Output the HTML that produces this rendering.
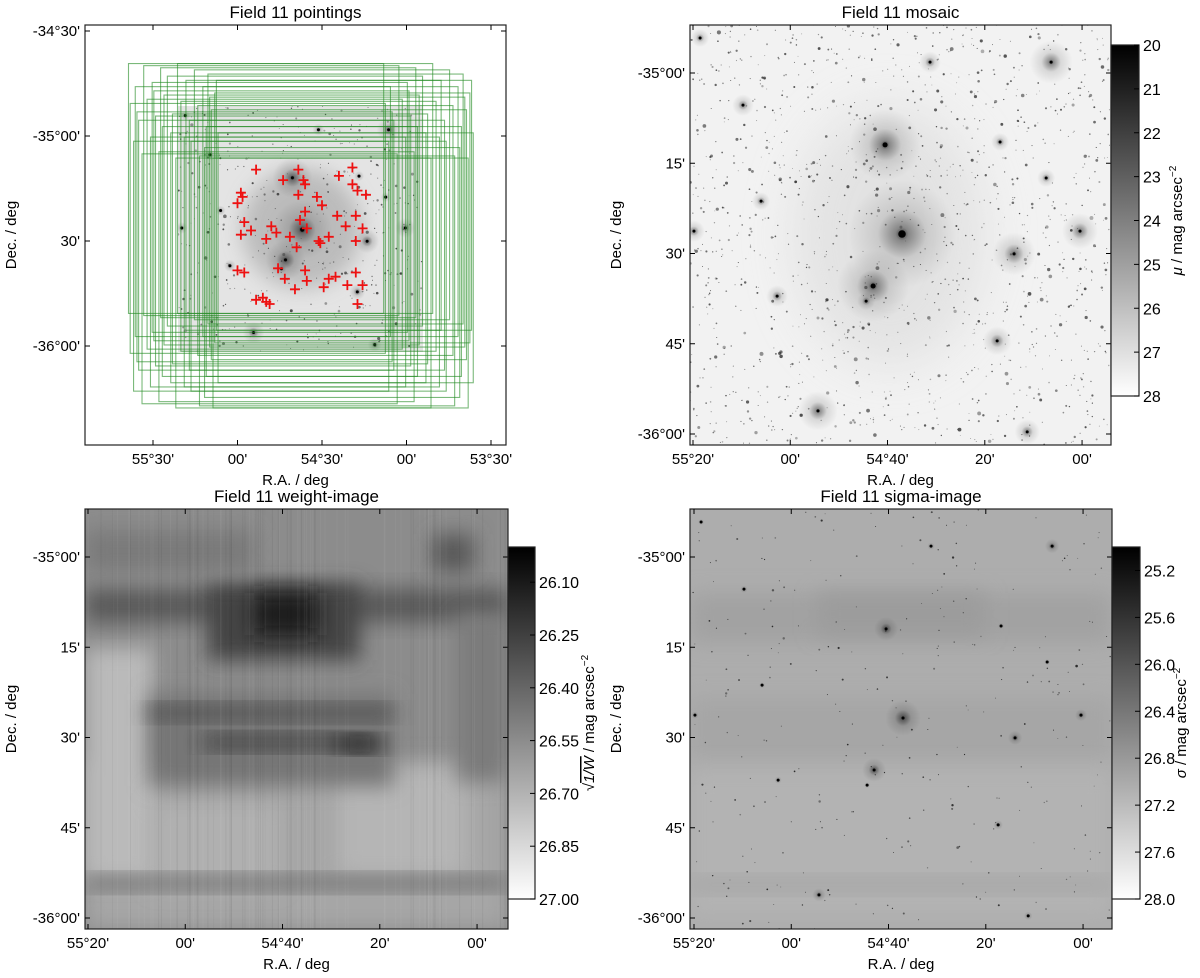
<!DOCTYPE html>
<html><head><meta charset="utf-8">
<style>
html,body{margin:0;padding:0;background:#fff;}
svg{display:block;font-family:"Liberation Sans",sans-serif;}
</style></head>
<body>
<svg id="fig" width="1200" height="978" viewBox="0 0 1200 978" xmlns="http://www.w3.org/2000/svg">
<defs>
<linearGradient id="cbar" x1="0" y1="0" x2="0" y2="1"><stop offset="0" stop-color="#000"/><stop offset="1" stop-color="#fff"/></linearGradient>
<radialGradient id="halo"><stop offset="0" stop-color="#000" stop-opacity="0.85"/><stop offset="0.12" stop-color="#000" stop-opacity="0.45"/><stop offset="0.45" stop-color="#000" stop-opacity="0.12"/><stop offset="1" stop-color="#000" stop-opacity="0"/></radialGradient>
<filter id="blur" x="-50%" y="-50%" width="200%" height="200%"><feGaussianBlur stdDeviation="10"/></filter>
<filter id="blur2" x="-50%" y="-50%" width="200%" height="200%"><feGaussianBlur stdDeviation="25"/></filter>
<clipPath id="c1"><rect x="85" y="25" width="421" height="420"/></clipPath>
<clipPath id="c2"><rect x="690" y="25" width="421" height="420"/></clipPath>
<clipPath id="c3"><rect x="85" y="509" width="423" height="420"/></clipPath>
<clipPath id="c4"><rect x="690" y="509" width="422" height="420"/></clipPath>
<clipPath id="cpatch"><rect x="178" y="106" width="245" height="246"/></clipPath>
</defs>
</svg>
<script>
// ---------- data ----------
const crossRA  = [54.89,54.64,54.73,54.61,54.60,54.40,54.32,54.32,54.29,54.24,54.98,54.97,55.00,54.64,54.53,54.50,54.60,54.63,54.59,54.41,54.30,54.36,54.26,54.96,54.98,54.92,54.80,54.77,54.83,54.69,54.65,54.52,54.51,54.46,54.30,55.00,54.96,54.76,54.72,54.60,54.59,54.66,54.49,54.46,54.42,54.30,54.35,54.26,54.89,54.85,54.83,54.81,54.29];
const crossDec = [-35.16,-35.16,-35.21,-35.21,-35.23,-35.19,-35.15,-35.23,-35.26,-35.28,-35.27,-35.29,-35.32,-35.28,-35.29,-35.33,-35.36,-35.40,-35.44,-35.38,-35.38,-35.43,-35.44,-35.41,-35.47,-35.45,-35.43,-35.46,-35.49,-35.48,-35.53,-35.50,-35.51,-35.48,-35.50,-35.64,-35.65,-35.63,-35.68,-35.64,-35.69,-35.73,-35.72,-35.68,-35.67,-35.65,-35.71,-35.71,-35.78,-35.77,-35.79,-35.80,-35.80];
const rectRA  = [54.89,54.80,54.70,54.60,54.50,54.42,54.37,54.85,54.75,54.66,54.55,54.45,54.38,54.88,54.78,54.68,54.58,54.48,54.40,54.83,54.73,54.63,54.53,54.43,54.36,54.86,54.76,54.64,54.52,54.44,54.81,54.71,54.61,54.47,54.39,54.84,54.69,54.56,54.41,54.74];
const rectDec = [-35.25,-35.26,-35.27,-35.25,-35.28,-35.30,-35.33,-35.36,-35.34,-35.31,-35.33,-35.36,-35.39,-35.44,-35.42,-35.40,-35.43,-35.45,-35.47,-35.52,-35.50,-35.49,-35.52,-35.55,-35.58,-35.62,-35.60,-35.58,-35.62,-35.65,-35.68,-35.67,-35.70,-35.69,-35.70,-35.48,-35.55,-35.60,-35.41,-35.38];
const galRA  = [54.617,54.675,54.716,54.233,54.007,54.106,54.905,55.045,54.291,54.188,54.123,54.281,55.162,54.521,55.309,54.740,55.330,55.100];
const galDec = [-35.446,-35.199,-35.590,-35.501,-35.438,-34.970,-35.936,-35.618,-35.742,-35.994,-35.291,-35.191,-35.089,-34.970,-34.903,-35.632,-35.438,-35.355];
const galSize = [60,40,40,24,20,24,22,12,16,14,10,10,12,12,10,10,12,10];
const p1DecTicks=[-34.5,-35.0,-35.5,-36.0], p1DecLabels=["-34°30'","-35°00'","30'","-36°00'"];
const p1RATicks=[55.5,55.0,54.5,54.0,53.5], p1RALabels=["55°30'","00'","54°30'","00'","53°30'"];
const raTicks=[55.3333,55.0,54.6667,54.3333,54.0], raLabels=["55°20'","00'","54°40'","20'","00'"];
const decTicks=[-35.0,-35.25,-35.5,-35.75,-36.0], decLabels=["-35°00'","15'","30'","45'","-36°00'"];
const cb2Ticks=[20,21,22,23,24,25,26,27,28];
const cb3Ticks=[26.10,26.25,26.40,26.55,26.70,26.85,27.00];
const cb4Ticks=[25.2,25.6,26.0,26.4,26.8,27.2,27.6,28.0];

// ---------- helpers ----------
const NS="http://www.w3.org/2000/svg";
const svg=document.getElementById('fig');
function mk(tag,attrs,parent){const e=document.createElementNS(NS,tag);for(const k in attrs)e.setAttribute(k,attrs[k]);(parent||svg).appendChild(e);return e;}
function txt(x,y,s,size,anchor,parent,rot){const t=mk('text',{x:x,y:y,'font-size':size,'text-anchor':anchor||'middle',fill:'#000'},parent);if(rot)t.setAttribute('transform',`rotate(${rot} ${x} ${y})`);t.textContent=s;return t;}
let seed=7;function rnd(){seed=(seed*16807)%2147483647;return (seed-1)/2147483646;}

const x1=ra=>153+(55.5-ra)*169, y1=d=>31+(-34.5-d)*210;
const x2=ra=>693+(55.3333-ra)*291.8, y2=d=>73+(-35-d)*361;
const x3=ra=>88+(55.3333-ra)*291.8, y3=d=>557+(-35-d)*361;
const x4=ra=>694+(55.3333-ra)*291.8, y4=d=>557+(-35-d)*361;

function axes(name,bx,by,bw,bh,xf,yf,xt,xl,yt,yl,title){
  const g=mk('g',{});
  
  
  mk('rect',{x:bx,y:by,width:bw,height:bh,fill:'none',stroke:'#222','stroke-width':1.2},g);
  xt.forEach((v,i)=>{const X=xf(v);
    mk('line',{x1:X,y1:by+bh,x2:X,y2:by+bh-5,stroke:'#000'},g);
    mk('line',{x1:X,y1:by,x2:X,y2:by+5,stroke:'#000'},g);
    const t=txt(X,by+bh+19,xl[i],15,'middle',g);
    
    });
  yt.forEach((v,i)=>{const Y=yf(v);
    mk('line',{x1:bx,y1:Y,x2:bx+5,y2:Y,stroke:'#000'},g);
    mk('line',{x1:bx+bw,y1:Y,x2:bx+bw-5,y2:Y,stroke:'#000'},g);
    const t=txt(bx-5,Y+5,yl[i],15,'end',g);
    
    });
  const xa=txt(bx+bw/2,by+bh+40,'R.A. / deg',15,'middle',g);
  
  
  const ya=txt(bx-69,by+bh/2,'Dec. / deg',15,'middle',g,-90);
  
  
  const tt=txt(bx+bw/2,by-7,title,17,'middle',g);
  
  
}
function colorbar(name,cx,cy,cw,ch,vmin,vmax,ticks,fmt,label,lx){
  const g=mk('g',{});
  
  
  mk('rect',{x:cx,y:cy,width:cw,height:ch,fill:'url(#cbar)',stroke:'#222','stroke-width':1.2},g);
  const cyf=v=>cy+(v-vmin)/(vmax-vmin)*ch;
  ticks.forEach(v=>{const Y=cyf(v);
    mk('line',{x1:cx+cw,y1:Y,x2:cx+cw-5,y2:Y,stroke:'#000'},g);
    const t=txt(cx+cw+4,Y+6,fmt(v),16,'start',g);
    
    });
  const l=txt(lx,cy+ch/2,'',15,'middle',g,-90);
  l.innerHTML=label;
  
  
}
function galaxies(parent,xf,yf,scale,op){
  galRA.forEach((ra,i)=>{
    const X=xf(ra),Y=yf(galDec[i]),r=galSize[i]*scale;
    const h=mk('circle',{cx:X,cy:Y,r:r,fill:'url(#halo)',opacity:op},parent);
    
    
    mk('circle',{cx:X,cy:Y,r:Math.max(1.5,r*0.07),fill:'#000'},parent);
  });
}
function stars(parent,x0,y0,w,h,n,col,maxr){
  for(let i=0;i<n;i++){const a=rnd(),b=rnd();mk('circle',{cx:x0+rnd()*w,cy:y0+rnd()*h,r:0.5+a*a*b*maxr,fill:col,opacity:0.35+rnd()*0.5},parent);}
}

// ---------- Panel 1 ----------
(function(){
  const g=mk('g',{'clip-path':'url(#c1)'});
  
  
  const p=mk('g',{'clip-path':'url(#cpatch)'},g);
  mk('rect',{x:178,y:106,width:245,height:246,fill:'#e4e4e4'},p);
  mk('ellipse',{cx:x1(54.62),cy:y1(-35.44),rx:60,ry:60,fill:'#aaa',filter:'url(#blur)',opacity:0.7},p);
  galaxies(p,x1,y1,0.5,1);
  stars(p,178,106,245,246,450,'#333',1.3);
  const W=1.51*169, H=1.19*210;
  rectRA.forEach((ra,i)=>{
    const r=mk('rect',{x:x1(ra)-W/2,y:y1(rectDec[i])-H/2,width:W,height:H,fill:'none',stroke:'#228b22','stroke-width':1.1,'stroke-opacity':0.6},g);
    
    
  });
  crossRA.forEach((ra,i)=>{
    const X=x1(ra),Y=y1(crossDec[i]);
    const c=mk('path',{d:`M${X-5},${Y}H${X+5}M${X},${Y-5}V${Y+5}`,stroke:'#ee1111','stroke-width':1.8},g);
    
    
  });
  axes('pointings',85,25,421,420,x1,y1,p1RATicks,p1RALabels,p1DecTicks,p1DecLabels,'Field 11 pointings');
})();

// ---------- Panel 2 ----------
(function(){
  const g=mk('g',{'clip-path':'url(#c2)'});
  
  
  mk('rect',{x:690,y:25,width:421,height:420,fill:'#f2f2f2'},g);
  mk('ellipse',{cx:x2(54.66),cy:y2(-35.45),rx:95,ry:130,fill:'#dcdcdc',filter:'url(#blur2)',opacity:0.7},g);
  galaxies(g,x2,y2,0.9,0.9);
  stars(g,690,25,421,420,1400,'#333',1.6);
  axes('mosaic',690,25,421,420,x2,y2,raTicks,raLabels,decTicks,decLabels,'Field 11 mosaic');
  colorbar('mosaic-colorbar',1111,45,28,351,20,28,cb2Ticks,v=>String(v),'<tspan font-style="italic">μ</tspan> / mag arcsec<tspan dy="-6" font-size="10">−2</tspan>',1182);
})();

// ---------- Panel 3 ----------
(function(){
  const g=mk('g',{'clip-path':'url(#c3)'});
  
  
  const bx=85,by=509,bw=423,bh=420;
  mk('rect',{x:bx,y:by,width:bw,height:bh,fill:'#8c8c8c'},g);
  const patches=[[0,0.6,1,0.4,'#a6a6a6'],[0,0.33,0.16,0.55,'#bababa'],[0.16,0.7,0.3,0.2,'#b0b0b0'],[0.6,0.62,0.3,0.25,'#b5b5b5'],
    [0,0.19,1,0.08,'#5a5a5a'],[0.29,0.18,0.36,0.18,'#454545'],[0.4,0.2,0.15,0.1,'#1e1e1e'],[0.15,0.44,0.58,0.22,'#767676'],
    [0.15,0.47,0.58,0.03,'#505050'],[0.28,0.54,0.4,0.03,'#3c3c3c'],[0.6,0.545,0.1,0.03,'#222'],[0,0.875,1,0.03,'#6a6a6a'],
    [0.82,0.06,0.1,0.09,'#5a5a5a'],[0.88,0.25,0.12,0.4,'#7c7c7c'],[0,0.05,0.4,0.1,'#7a7a7a']];
  patches.forEach(p=>{mk('rect',{x:bx+p[0]*bw,y:by+p[1]*bh,width:p[2]*bw,height:p[3]*bh,fill:p[4],filter:'url(#blur)'},g);});
  for(let i=0;i<90;i++){mk('rect',{x:bx+rnd()*bw,y:by,width:1,height:bh,fill:rnd()<0.5?'#000':'#fff',opacity:0.05},g);}
  axes('weight',bx,by,bw,bh,x3,y3,raTicks,raLabels,decTicks,decLabels,'Field 11 weight-image');
  colorbar('weight-colorbar',508,547,27,352,26.0,27.0,cb3Ticks,v=>v.toFixed(2),'√<tspan text-decoration="overline" font-style="italic">1/W</tspan> / mag arcsec<tspan dy="-6" font-size="10">−2</tspan>',594);
})();

// ---------- Panel 4 ----------
(function(){
  const g=mk('g',{'clip-path':'url(#c4)'});
  
  
  const bx=690,by=509,bw=422,bh=420;
  mk('rect',{x:bx,y:by,width:bw,height:bh,fill:'#adadad'},g);
  [[0,0.2,1,0.12,'#a2a2a2'],[0.3,0.2,0.4,0.1,'#9c9c9c'],[0,0.45,1,0.15,'#a6a6a6'],[0,0.62,1,0.35,'#b3b3b3'],[0,0.88,1,0.03,'#a3a3a3']]
    .forEach(p=>{mk('rect',{x:bx+p[0]*bw,y:by+p[1]*bh,width:p[2]*bw,height:p[3]*bh,fill:p[4],filter:'url(#blur)'},g);});
  galaxies(g,x4,y4,0.3,1);
  stars(g,bx,by,bw,bh,300,'#111',1.0);
  axes('sigma',bx,by,bw,bh,x4,y4,raTicks,raLabels,decTicks,decLabels,'Field 11 sigma-image');
  colorbar('sigma-colorbar',1112,547,28,352,25.0,28.0,cb4Ticks,v=>v.toFixed(1),'<tspan font-style="italic">σ</tspan> / mag arcsec<tspan dy="-6" font-size="10">−2</tspan>',1186);
})();
</script>
</body></html>
